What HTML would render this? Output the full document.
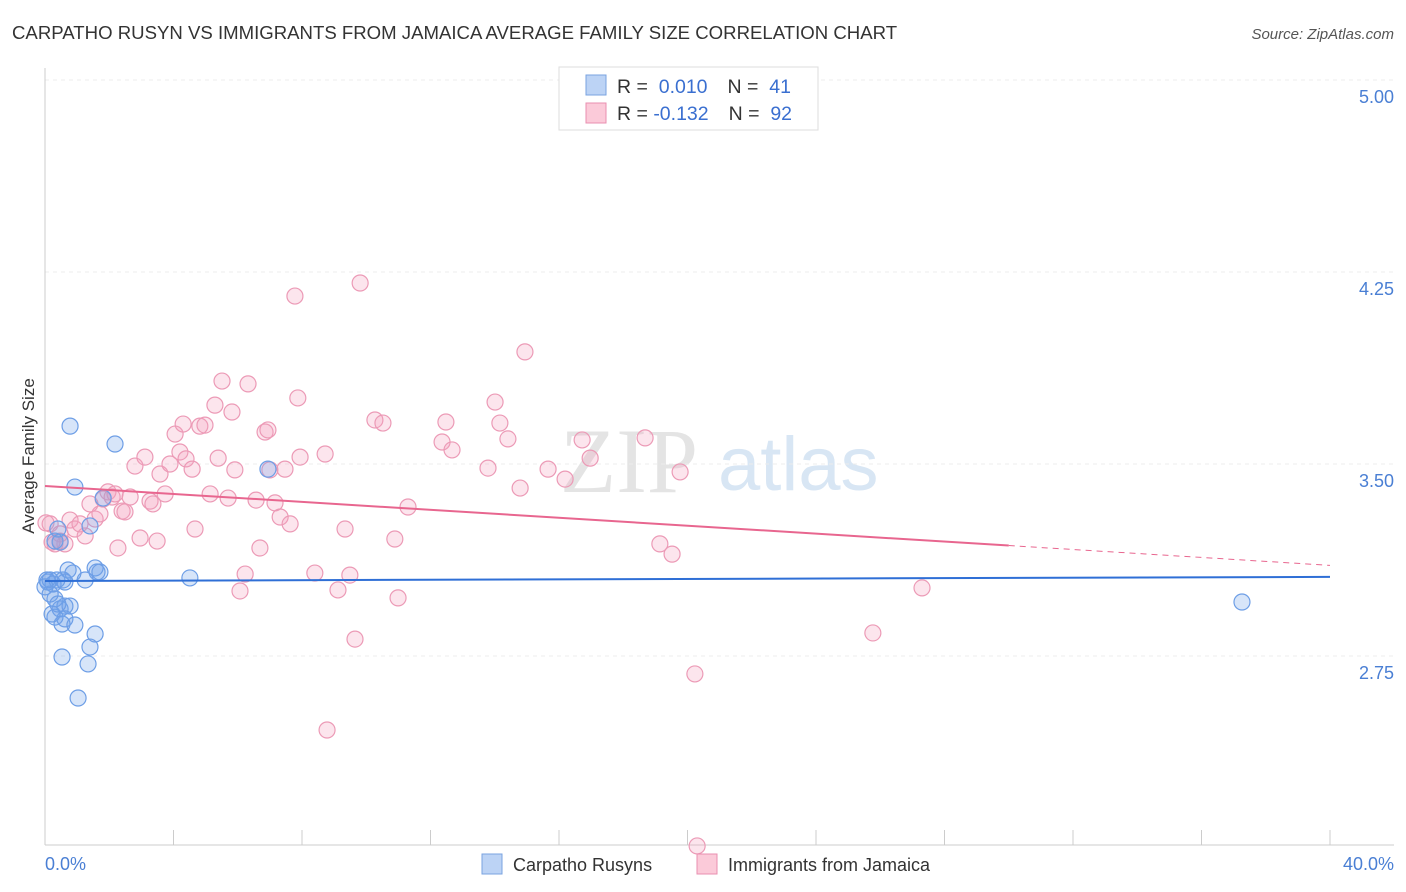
<!DOCTYPE html>
<html><head><meta charset="utf-8"><style>
body{margin:0;background:#fff;font-family:"Liberation Sans",sans-serif;}
svg{display:block}
</style></head><body>
<svg id="chart" width="1406" height="892" font-family="Liberation Sans, sans-serif">
<text x="12" y="39" font-size="18.6" fill="#333">CARPATHO RUSYN VS IMMIGRANTS FROM JAMAICA AVERAGE FAMILY SIZE CORRELATION CHART</text>
<text x="1394" y="39" font-size="15" fill="#555" font-style="italic" text-anchor="end">Source: ZipAtlas.com</text>
<text x="560" y="492" font-size="92" fill="#e4e4e4" font-family="Liberation Serif, serif">ZIP</text>
<text x="718" y="490" font-size="76" fill="#d8e6f4">atlas</text>
<g id="grid"></g><g id="axes"></g><g id="pts"></g><g id="lines"></g>
<text transform="translate(34,456) rotate(-90)" font-size="17" fill="#333" text-anchor="middle">Average Family Size</text>
<text x="45" y="870" font-size="18" fill="#4a7fd4">0.0%</text>
<text x="1394" y="870" font-size="18" fill="#4a7fd4" text-anchor="end">40.0%</text>
<g>
<rect x="559" y="67" width="259" height="63" fill="#fff" stroke="#ddd"/>
<rect x="586" y="75" width="20" height="20" fill="#bcd3f5" stroke="#7aa3e0"/>
<rect x="586" y="103" width="20" height="20" fill="#fbcad9" stroke="#e98fb0"/>
<text x="617" y="93" font-size="19.5" fill="#333">R = <tspan fill="#3a6fd0">&#160;0.010</tspan><tspan dx="20" fill="#333">N = </tspan><tspan fill="#3a6fd0">&#160;41</tspan></text>
<text x="617" y="120" font-size="19.5" fill="#333">R = <tspan fill="#3a6fd0">-0.132</tspan><tspan dx="20" fill="#333">N = </tspan><tspan fill="#3a6fd0">&#160;92</tspan></text>
</g>
<g>
<rect x="482" y="854" width="20" height="20" fill="#bcd3f5" stroke="#7aa3e0"/>
<text x="513" y="871" font-size="18" fill="#333">Carpatho Rusyns</text>
<rect x="697" y="854" width="20" height="20" fill="#fbcad9" stroke="#e98fb0"/>
<text x="728" y="871" font-size="18" fill="#333">Immigrants from Jamaica</text>
</g>
</svg>
<script>
const yTicks=[5.00,4.25,3.50,2.75];
const yTickLabels=["5.00","4.25","3.50","2.75"];
const xTicks=[0,4,8,12,16,20,24,28,32,36,40];
const blueX=[0.16,0.06,0.25,0.37,0.56,0.16,0.31,0.47,0.62,0.78,0.31,0.53,0.62,0.93,1.56,0.72,0.87,1.56,1.62,1.25,0.93,0.78,2.18,1.81,1.40,0.40,0.47,0.31,0.09,0.53,1.34,1.40,1.03,4.51,6.94,37.26,0.22,0.0,0.62,1.71,0.40];
const blueY=[3.047,3.047,3.031,3.047,3.047,2.992,2.973,2.934,2.945,2.945,2.902,2.875,2.895,2.871,2.836,3.086,3.074,3.094,3.078,3.047,3.410,3.648,3.578,3.367,3.258,3.246,3.195,3.199,3.039,2.746,2.719,2.785,2.586,3.055,3.480,2.961,2.914,3.020,3.039,3.078,2.953];
const pinkX=[0.16,0.31,0.47,0.62,0.47,0.78,0.93,1.09,1.25,1.40,1.56,1.71,1.81,1.96,2.09,2.18,2.27,2.40,2.49,2.65,2.80,2.96,3.11,3.27,3.36,3.49,3.58,3.74,3.89,4.05,4.20,4.30,4.39,4.58,4.67,4.82,4.98,5.14,5.29,5.39,5.51,5.70,5.82,5.91,6.07,6.23,6.32,6.57,6.69,6.85,6.94,7.00,7.16,7.32,7.47,7.63,7.78,7.87,7.94,8.40,8.72,9.12,9.34,9.49,9.65,9.81,8.78,10.27,10.52,10.89,10.99,11.30,12.36,12.48,12.67,13.79,14.01,14.16,14.41,14.79,14.94,15.66,16.19,16.72,16.97,18.68,19.14,19.52,19.77,20.23,20.30,25.77,27.30,0.03,0.22];
const pinkY=[3.266,3.188,3.227,3.188,3.199,3.281,3.246,3.266,3.219,3.344,3.285,3.305,3.363,3.391,3.371,3.383,3.172,3.316,3.313,3.371,3.492,3.211,3.527,3.355,3.344,3.199,3.461,3.383,3.500,3.617,3.547,3.656,3.520,3.480,3.246,3.648,3.652,3.383,3.730,3.523,3.824,3.367,3.703,3.477,3.004,3.070,3.813,3.359,3.172,3.625,3.633,3.477,3.348,3.293,3.480,3.266,4.156,3.758,3.527,3.074,3.539,3.008,3.246,3.066,2.816,4.207,2.461,3.672,3.660,3.207,2.977,3.332,3.586,3.664,3.555,3.484,3.742,3.660,3.598,3.406,3.938,3.480,3.441,3.594,3.523,3.602,3.188,3.148,3.469,2.680,2.008,2.840,3.016,3.270,3.195];
const X0=45,X1=1330,Y5=80,PXU=256;
const sx=p=>X0+(X1-X0)*p/40;
const sy=v=>Y5+(5-v)*PXU;
const NS="http://www.w3.org/2000/svg";
function mk(tag,attrs,parent){const e=document.createElementNS(NS,tag);for(const k in attrs)e.setAttribute(k,attrs[k]);parent.appendChild(e);return e;}
const grid=document.getElementById('grid'),axes=document.getElementById('axes'),pts=document.getElementById('pts'),lines=document.getElementById('lines');
yTicks.forEach((t,i)=>{
 const l=mk('line',{x1:X0,x2:1394,y1:sy(t),y2:sy(t),stroke:'#ececec','stroke-dasharray':'4,4'},grid);
 
 
 const tx=mk('text',{x:1394,y:sy(t)+23,'font-size':18,fill:'#4a7fd4','text-anchor':'end'},grid);
 tx.textContent=yTickLabels[i];
 
 
});
const ya=mk('line',{x1:X0,x2:X0,y1:68,y2:845,stroke:'#ccc'},axes);


const xa=mk('line',{x1:X0,x2:1394,y1:845,y2:845,stroke:'#ccc'},axes);


xTicks.forEach(t=>{
 const tk=mk('line',{x1:sx(t),x2:sx(t),y1:830,y2:845,stroke:'#ccc'},axes);
 
 
});
pinkX.forEach((x,i)=>{
 const c=mk('circle',{cx:sx(x),cy:sy(pinkY[i]),r:8,fill:'rgba(244,160,190,0.28)',stroke:'#ec9ab6','stroke-width':1.2},pts);
 
 
});
blueX.forEach((x,i)=>{
 const c=mk('circle',{cx:sx(x),cy:sy(blueY[i]),r:8,fill:'rgba(110,160,235,0.28)',stroke:'#6d9ee6','stroke-width':1.2},pts);
 
 
});
const bl=mk('line',{x1:sx(0),y1:sy(3.043),x2:sx(40),y2:sy(3.059),stroke:'#2f6fd6','stroke-width':2},lines);


const pa=3.414,pb=-0.00775;
const pl=mk('line',{x1:sx(0),y1:sy(pa),x2:sx(30),y2:sy(pa+pb*30),stroke:'#e8668f','stroke-width':2},lines);


const pd=mk('line',{x1:sx(30),y1:sy(pa+pb*30),x2:sx(40),y2:sy(pa+pb*40),stroke:'#e8668f','stroke-width':1,'stroke-dasharray':'6,5'},lines);


</script>
</body></html>
